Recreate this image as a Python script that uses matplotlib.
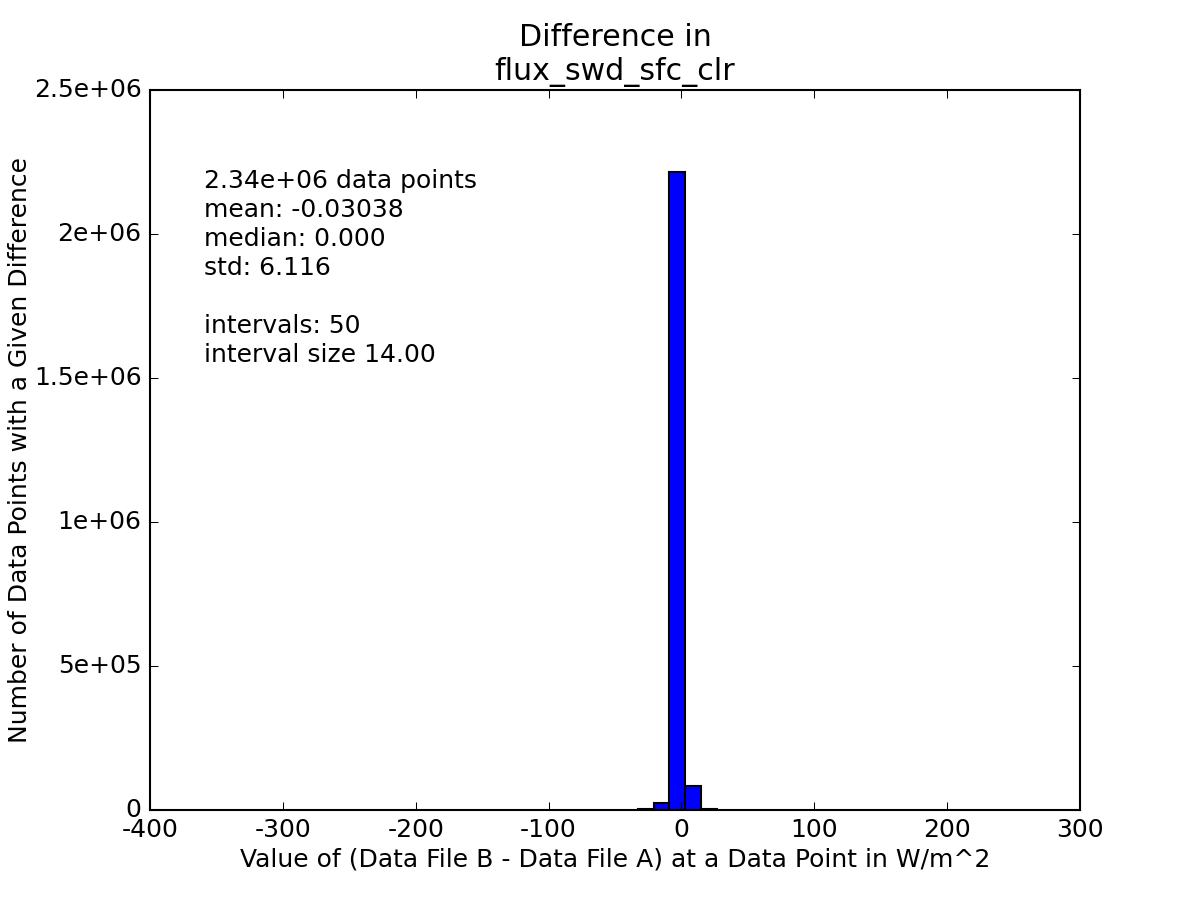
import numpy as np
import matplotlib
matplotlib.use("Agg")
import matplotlib.pyplot as plt
from matplotlib.ticker import FormatStrFormatter

# histogram bins that have visible counts (everything else is ~0)
bin_edges = [-33, -21, -9, 3, 15, 27]
bin_counts = [2500, 24000, 2215000, 83000, 2000]

stats_text = ("2.34e+06 data points\n"
              "mean: -0.03038\n"
              "median: 0.000\n"
              "std: 6.116\n"
              "\n"
              "intervals: 50\n"
              "interval size 14.00")


def main():
    plt.style.use("classic")
    plt.rcParams["axes.unicode_minus"] = False
    fig = plt.figure(figsize=(8, 6), dpi=150)
    ax = fig.add_subplot(111)

    centers = 0.5 * (np.array(bin_edges[:-1]) + np.array(bin_edges[1:]))
    ax.hist(centers, bins=bin_edges, weights=bin_counts, color="b",
            edgecolor="k", linewidth=1.0)

    ax.set_xlim(-400, 300)
    ax.set_ylim(0, 2.5e6)
    ax.yaxis.set_major_formatter(FormatStrFormatter("%.2g"))

    ax.set_title("Difference in\nflux_swd_sfc_clr")
    ax.set_xlabel("Value of (Data File B - Data File A) at a Data Point in W/m^2",
                  labelpad=2.5)
    ax.set_ylabel("Number of Data Points with a Given Difference", labelpad=1)

    ax.text(0.058, 0.89, stats_text, transform=ax.transAxes,
            va="top", ha="left", fontsize=12, linespacing=1.26)

    fig.savefig("out.png", dpi=150)


if __name__ == "__main__":
    main()
